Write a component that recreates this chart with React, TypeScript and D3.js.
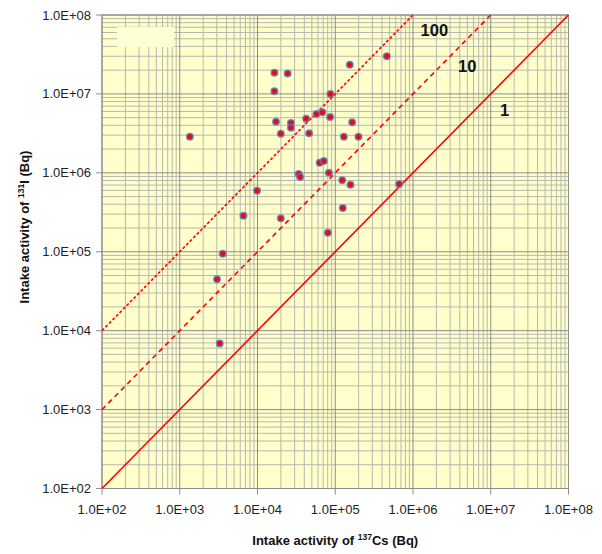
import React from "react";
import * as d3 from "d3";

// intake activity, Bq
const cs137 = [
  1350, 16500, 24400, 16500, 154000, 461000, 86700, 17300, 26900, 26900,
  19950, 42200, 57300, 68400, 85900, 165000, 46100, 129000, 199000, 63000,
  71300, 33800, 35300, 82800, 123000, 157000, 664000, 9880, 125000, 6590,
  19950, 80400, 3570, 3020, 3270,
];
const i131 = [
  2.87e6, 1.86e7, 1.82e7, 1.08e7, 2.34e7, 3.0e7, 9.97e6, 4.45e6, 4.28e6, 3.73e6,
  3.13e6, 4.85e6, 5.56e6, 5.85e6, 5.09e6, 4.36e6, 3.17e6, 2.87e6, 2.87e6, 1.34e6,
  1.41e6, 9.66e5, 8.85e5, 1.0e6, 8.04e5, 7.06e5, 7.2e5, 5.93e5, 3.58e5, 2.86e5,
  2.65e5, 1.74e5, 9.44e4, 4.47e4, 6.9e3,
];
const ratios = [1, 10, 100];
const ratioLabels = ["1", "10", "100"];
const decades = [1e2, 1e3, 1e4, 1e5, 1e6, 1e7, 1e8];

const W = 602;
const H = 554;
const left = 102;
const right = 568.5;
const top = 15;
const bottom = 488.5;

const fmt = (v: number) => {
  const e = Math.round(Math.log10(v));
  return `1.0E+${String(e).padStart(2, "0")}`;
};

export default function App() {
  const x = d3.scaleLog().domain([1e2, 1e8]).range([left, right]);
  const y = d3.scaleLog().domain([1e2, 1e8]).range([bottom, top]);
  const minor = x.ticks().filter((t) => !decades.includes(t));

  const line = d3
    .line<number>()
    .x((d) => x(d[0]))
    .y((d) => y(d[1]));

  const dashes: Record<number, string | undefined> = {
    1: undefined,
    10: "5,4",
    100: "3,2",
  };
  // label anchors in data space
  const labelAt: Record<number, [number, number]> = {
    1: [1.32e7, 5.25e6],
    10: [3.8e6, 1.9e7],
    100: [1.25e6, 5.4e7],
  };

  const font = "'Liberation Sans', Arial, sans-serif";

  return (
    <svg
      width={W}
      height={H}
      style={{ position: "absolute", left: 0, top: 0, background: "#fff" }}
      fontFamily={font}
    >
      <rect x={left} y={top} width={right - left} height={bottom - top} fill="#FFFFCC" />
      {/* minor grid */}
      <g stroke="#B8B8AE" strokeWidth={1}>
        {minor.map((t) => (
          <line key={"vx" + t} x1={x(t)} x2={x(t)} y1={top} y2={bottom} />
        ))}
        {minor.map((t) => (
          <line key={"hy" + t} x1={left} x2={right} y1={y(t)} y2={y(t)} />
        ))}
      </g>
      {/* major grid */}
      <g stroke="#8C8C8C" strokeWidth={1}>
        {decades.map((t) => (
          <line key={"Vx" + t} x1={x(t)} x2={x(t)} y1={top} y2={bottom} />
        ))}
        {decades.map((t) => (
          <line key={"Hy" + t} x1={left} x2={right} y1={y(t)} y2={y(t)} />
        ))}
      </g>
      <rect x={117} y={27} width={57} height={20} fill="#FFFFD6" />
      <rect x={left} y={top} width={right - left} height={bottom - top} fill="none" stroke="#8C8C8C" />

      {/* ratio lines */}
      {ratios.map((k) => {
        const x1 = Math.min(1e8, 1e8 / k);
        return (
          <path
            key={k}
            d={line([
              [1e2, 1e2 * k],
              [x1, x1 * k],
            ])!}
            stroke="#FF0000"
            strokeWidth={1.6}
            strokeDasharray={dashes[k]}
            fill="none"
          />
        );
      })}
      {ratios.map((k, i) => (
        <text
          key={"l" + k}
          x={x(labelAt[k][0])}
          y={y(labelAt[k][1])}
          fontSize={16.5}
          fontWeight="bold"
          fill="#111"
        >
          {ratioLabels[i]}
        </text>
      ))}

      {/* points */}
      {cs137.map((c, i) => (
        <circle
          key={i}
          cx={x(c)}
          cy={y(i131[i])}
          r={3.2}
          fill="#FF0000"
          stroke="#4F7FC0"
          strokeOpacity={0.8}
          strokeWidth={1.6}
        />
      ))}

      {/* axes */}
      <g fontSize={13} fill="#222">
        {decades.map((t) => (
          <g key={"ya" + t}>
            <line x1={left - 6} x2={left} y1={y(t)} y2={y(t)} stroke="#8C8C8C" />
            <text x={left - 11} y={y(t)} dy="0.35em" textAnchor="end">
              {fmt(t)}
            </text>
          </g>
        ))}
        {decades.map((t) => (
          <g key={"xa" + t}>
            <line x1={x(t)} x2={x(t)} y1={bottom} y2={bottom + 6} stroke="#8C8C8C" />
            <text x={x(t)} y={bottom + 25} textAnchor="middle">
              {fmt(t)}
            </text>
          </g>
        ))}
      </g>

      <text
        x={(left + right) / 2}
        y={545}
        textAnchor="middle"
        fontSize={13}
        fontWeight="bold"
        fill="#111"
      >
        Intake activity of{" "}
        <tspan fontSize={8.5} dy={-5}>
          137
        </tspan>
        <tspan dy={5}>Cs (Bq)</tspan>
      </text>
      <text
        transform={`translate(29,227) rotate(-90)`}
        textAnchor="middle"
        fontSize={13}
        fontWeight="bold"
        fill="#111"
      >
        Intake activity of{" "}
        <tspan fontSize={8.5} dy={-5}>
          131
        </tspan>
        <tspan dy={5}>I (Bq)</tspan>
      </text>
    </svg>
  );
}
